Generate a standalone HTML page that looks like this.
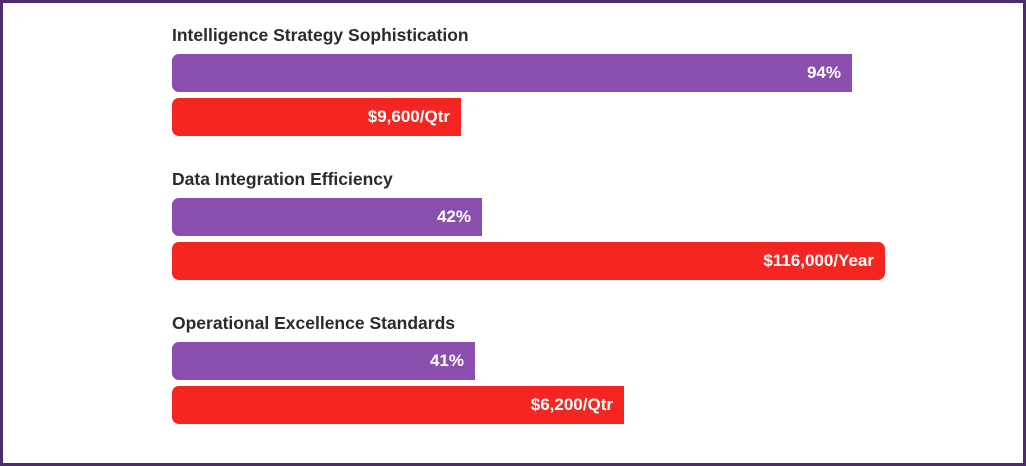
<!DOCTYPE html>
<html><head><style>
body{margin:0;width:1026px;height:466px;overflow:hidden;background:#fff;font-family:"Liberation Sans",Arial,sans-serif}
.frame{position:absolute;left:0;top:0;width:1020px;height:460px;border:3px solid #4b2d6e}
.t{position:absolute;left:172px;font-weight:bold;font-size:17.5px;color:#2b2b2b;line-height:20px}
.b{position:absolute;left:172px;height:38px;border-radius:7px 0 0 7px;color:#fff;font-weight:bold;font-size:17px;line-height:38px;text-align:right;box-sizing:border-box;padding-right:11px}
.p{background:#8a4fad}.r{background:#f52521}
</style></head><body>
<div class="frame"></div>
<div class="t" style="top:25px">Intelligence Strategy Sophistication</div>
<div class="b p" style="top:54px;width:680px">94%</div>
<div class="b r" style="top:98px;width:289px">$9,600/Qtr</div>
<div class="t" style="top:169px">Data Integration Efficiency</div>
<div class="b p" style="top:198px;width:310px">42%</div>
<div class="b r" style="top:242px;width:713px;border-radius:7px">$116,000/Year</div>
<div class="t" style="top:313px">Operational Excellence Standards</div>
<div class="b p" style="top:342px;width:303px">41%</div>
<div class="b r" style="top:386px;width:452px">$6,200/Qtr</div>
</body></html>
